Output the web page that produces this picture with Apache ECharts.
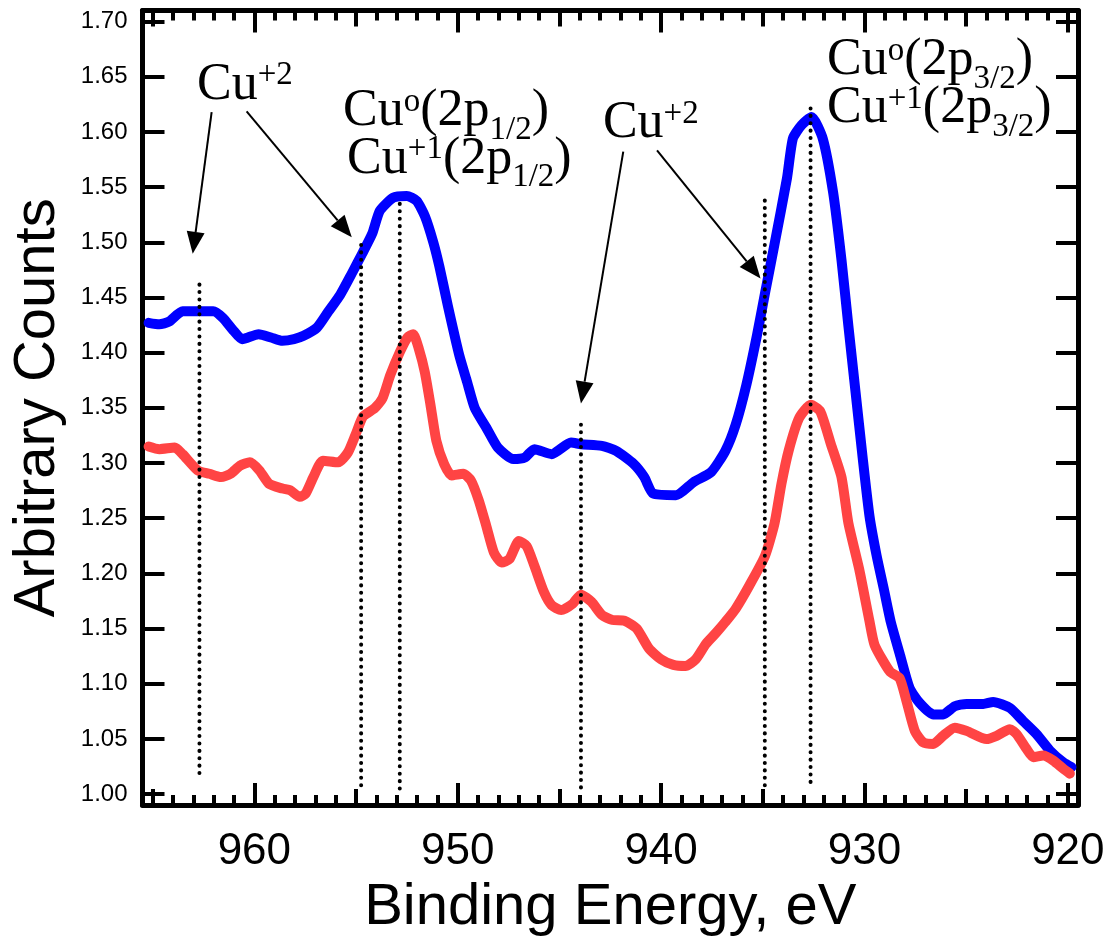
<!DOCTYPE html>
<html><head><meta charset="utf-8">
<script src="https://cdn.jsdelivr.net/npm/echarts@6/dist/echarts.min.js"></script>
<style>html,body{margin:0;padding:0;background:#fff}#c{width:1113px;height:942px}</style>
</head><body><div id="c"></div>
<script>
// ---- data (binding energy eV, arbitrary counts) ----
const blueE = [965.2,964.67,964.2,963.53,962.78,962.02,961.55,961.08,960.6,959.79,959.18,958.62,958.05,957.58,956.92,956.35,955.78,955.21,954.7,954.2,953.83,953.17,952.51,952.02,951.61,951.2,950.9,950.48,949.92,949.54,949.16,948.59,948.03,947.27,946.7,946.23,945.38,944.43,943.94,942.91,942.21,941.35,940.83,940.39,939.27,938.4,937.54,936.84,936.33,935.81,935.29,934.89,934.42,933.81,933.52,933.1,932.6,932.05,931.54,931.13,930.79,930.44,930.09,929.75,929.4,929.05,928.71,928.27,927.78,927.29,926.62,926.13,925.56,924.98,924.16,923.67,922.85,922.2,921.54,920.88,920.23,919.82];
const blueV = [1.427,1.4256,1.428,1.4375,1.4375,1.4375,1.4315,1.4211,1.4122,1.4167,1.4137,1.4107,1.4122,1.4152,1.4226,1.4375,1.4524,1.4717,1.4896,1.508,1.5285,1.5404,1.542,1.5375,1.5235,1.5,1.478,1.442,1.3973,1.3735,1.3497,1.3318,1.314,1.3036,1.305,1.3125,1.308,1.3185,1.317,1.3155,1.311,1.2991,1.2872,1.2723,1.2708,1.2827,1.2917,1.311,1.3348,1.3705,1.4152,1.4539,1.4985,1.558,1.594,1.606,1.6135,1.594,1.545,1.484,1.4241,1.3646,1.305,1.2515,1.2158,1.186,1.1563,1.1273,1.096,1.0826,1.0722,1.0722,1.0796,1.0817,1.0817,1.0835,1.0781,1.0662,1.0543,1.0394,1.0289,1.0244];
const redE = [965.2,964.67,963.91,963.53,962.78,962.21,961.64,961.17,960.7,960.22,959.75,959.28,958.62,958.24,957.77,957.48,957.1,956.63,955.87,955.4,955.02,954.65,954.08,953.7,953.32,952.85,952.47,952.19,951.91,951.62,951.34,951.05,950.67,950.3,949.73,949.35,948.97,948.59,948.22,947.84,947.46,946.99,946.61,946.23,945.76,945.38,944.91,944.34,943.94,943.42,942.91,942.39,941.8,941.2,940.6,940.0,939.4,938.8,938.3,937.8,937.3,936.84,936.33,935.66,934.89,934.42,934.08,933.73,933.21,932.64,932.17,931.65,931.13,930.79,930.26,929.75,929.5,928.75,928.27,927.93,927.52,927.11,926.62,926.13,925.56,924.98,924.0,923.5,922.85,922.52,922.03,921.7,921.21,920.72,920.23,919.9];
const redV = [1.315,1.3125,1.314,1.308,1.2932,1.2902,1.2872,1.2902,1.2976,1.3006,1.2932,1.2812,1.2768,1.2753,1.2693,1.2723,1.2872,1.3021,1.3006,1.3095,1.3259,1.3423,1.3497,1.3586,1.3795,1.4003,1.4137,1.4167,1.4033,1.3824,1.3527,1.32,1.2991,1.2887,1.2902,1.2842,1.2664,1.2426,1.2188,1.2098,1.2128,1.2292,1.2247,1.2068,1.183,1.1711,1.1667,1.1726,1.1807,1.1741,1.1622,1.1577,1.157,1.15,1.132,1.122,1.117,1.116,1.122,1.136,1.146,1.156,1.168,1.189,1.2158,1.2455,1.2813,1.311,1.3408,1.3527,1.3467,1.317,1.2872,1.2455,1.2039,1.1563,1.135,1.111,1.105,1.084,1.057,1.0468,1.0454,1.0528,1.0602,1.0573,1.0498,1.0528,1.0588,1.0543,1.0409,1.0334,1.0349,1.0304,1.023,1.0185];

// ---- ticks ----
const xMajorTicks = [920, 930, 940, 950, 960];
const xMidTicks = [925, 935, 945, 955, 965];
const xMinorTicks = [920,921,922,923,924,925,926,927,928,929,930,931,932,933,934,935,936,937,938,939,940,941,942,943,944,945,946,947,948,949,950,951,952,953,954,955,956,957,958,959,960,961,962,963,964,965];
const yTicks = [1.00,1.05,1.10,1.15,1.20,1.25,1.30,1.35,1.40,1.45,1.50,1.55,1.60,1.65,1.70];

// ---- annotations (data units) ----
const guideE = [962.7, 954.75, 952.85, 943.94, 934.9, 932.65];
const guideTop = [1.463, 1.4975, 1.540, 1.341, 1.542, 1.625];
const guideBottom = [1.019, 1.008, 1.005, 1.006, 1.008, 1.011];

const arrowFromE = [962.10, 960.38, 941.86, 940.2];
const arrowFromV = [1.6179, 1.6185, 1.5821, 1.5833];
const arrowToE = [963.03, 955.21, 943.94, 935.11];
const arrowToV = [1.4895, 1.5045, 1.354, 1.4671];

const labelText = [
  '{n|Cu}{sup|+2}',
  '{n|Cu}{sup|o}{n|(2p}{sub|1/2}{n|)}',
  '{n|Cu}{sup|+1}{n|(2p}{sub|1/2}{n|)}',
  '{n|Cu}{sup|+2}',
  '{n|Cu}{sup|o}{n|(2p}{sub|3/2}{n|)}',
  '{n|Cu}{sup|+1}{n|(2p}{sub|3/2}{n|)}'
];
const labelE = [962.82, 955.64, 955.44, 942.86, 931.84, 931.84];
const labelV = [1.666, 1.6418, 1.5988, 1.631, 1.6884, 1.6445];

const SANS = 'Liberation Sans, Arial, sans-serif';
const SERIF = 'Liberation Serif, Times New Roman, serif';

function pairs(xs, ys) { return xs.map((x, i) => [x, ys[i]]); }

const tickStyle = { color: '#000', width: 4 };
function xAx(pos, ticks, len, showLine, extra) {
  return Object.assign({
    type: 'value', min: 919.5, max: 965.5, inverse: true, position: pos,
    axisLine: { show: showLine, onZero: false, lineStyle: { color: '#000', width: 5 } },
    axisTick: { show: true, inside: true, length: len, customValues: ticks, lineStyle: tickStyle },
    axisLabel: { show: false },
    splitLine: { show: false }
  }, extra || {});
}
function yAx(pos, showLabel, extra) {
  return Object.assign({
    type: 'value', min: 0.99, max: 1.71, position: pos,
    axisLine: { show: true, onZero: false, lineStyle: { color: '#000', width: 5 } },
    axisTick: { show: true, inside: true, length: 22, customValues: yTicks, lineStyle: tickStyle },
    axisLabel: showLabel ? { show: true, customValues: yTicks, formatter: v => v.toFixed(2), fontSize: 24, color: '#000', fontFamily: SANS, margin: 15 } : { show: false },
    splitLine: { show: false }
  }, extra || {});
}

const series = [
  { type: 'line', name: 'blue', data: pairs(blueE, blueV), showSymbol: false, smooth: 0.2, z: 3,
    lineStyle: { color: '#0000ff', width: 10, cap: 'round', join: 'round' }, silent: true },
  { type: 'line', name: 'red', data: pairs(redE, redV), showSymbol: false, smooth: 0.2, z: 4,
    lineStyle: { color: '#ff4444', width: 10, cap: 'round', join: 'round' }, silent: true }
];
guideE.forEach((e, i) => {
  series.push({ type: 'line', data: [[e, guideBottom[i]], [e, guideTop[i]]], showSymbol: false, z: 6, silent: true,
    lineStyle: { color: '#000', width: 4, type: [0.1, 7.3], cap: 'round' } });
});

const option = {
  animation: false,
  backgroundColor: '#fff',
  grid: { left: 142.5, right: 35, top: 10.5, bottom: 127.5, containLabel: false },
  xAxis: [
    xAx('bottom', xMajorTicks, 22, true, {
      axisLabel: { show: true, customValues: xMajorTicks, fontSize: 44, color: '#000', fontFamily: SANS, margin: 25 },
      name: 'Binding Energy, eV', nameLocation: 'middle', nameGap: 66,
      nameTextStyle: { fontSize: 58, color: '#000', fontFamily: SANS }
    }),
    xAx('bottom', xMidTicks, 16, false),
    xAx('bottom', xMinorTicks, 10, false),
    xAx('top', xMajorTicks, 22, true),
    xAx('top', xMidTicks, 16, false),
    xAx('top', xMinorTicks, 10, false)
  ],
  yAxis: [
    yAx('left', true, { name: 'Arbitrary Counts', nameLocation: 'middle', nameGap: 76,
      nameTextStyle: { fontSize: 58, color: '#000', fontFamily: SANS } }),
    yAx('right', false)
  ],
  series: series
};

const chart = echarts.init(document.getElementById('c'), null, { renderer: 'canvas' });
chart.setOption(option);

const rich = {
  n: { fontSize: 52, lineHeight: 52, fontFamily: SERIF, fill: '#000', verticalAlign: 'top' },
  sup: { fontSize: 33, lineHeight: 33, fontFamily: SERIF, fill: '#000', verticalAlign: 'top' },
  sub: { fontSize: 33, lineHeight: 33, fontFamily: SERIF, fill: '#000', verticalAlign: 'top', padding: [28, 0, 0, 0] }
};
const toPx = (e, v) => chart.convertToPixel({ xAxisIndex: 0, yAxisIndex: 0 }, [e, v]);
const graphics = [];
arrowFromE.forEach((e, i) => {
  const p1 = toPx(e, arrowFromV[i]);
  const p2 = toPx(arrowToE[i], arrowToV[i]);
  const dx = p2[0] - p1[0], dy = p2[1] - p1[1];
  const L = Math.hypot(dx, dy), ux = dx / L, uy = dy / L;
  const hl = 22, hw = 9;
  const bx = p2[0] - ux * hl, by = p2[1] - uy * hl;
  graphics.push({ type: 'line', silent: true, z: 100,
    shape: { x1: p1[0], y1: p1[1], x2: bx, y2: by }, style: { stroke: '#000', lineWidth: 2 } });
  graphics.push({ type: 'polygon', silent: true, z: 100,
    shape: { points: [[p2[0], p2[1]], [bx - uy * hw, by + ux * hw], [bx + uy * hw, by - ux * hw]] },
    style: { fill: '#000' } });
});
labelText.forEach((t, i) => {
  const p = toPx(labelE[i], labelV[i]);
  graphics.push({ type: 'text', x: p[0], y: p[1], silent: true, z: 100,
    style: { text: t, rich: rich, fill: '#000', align: 'left', verticalAlign: 'top', fontFamily: SERIF, fontSize: 52 } });
});
chart.setOption({ graphic: graphics });
</script>
</body></html>
